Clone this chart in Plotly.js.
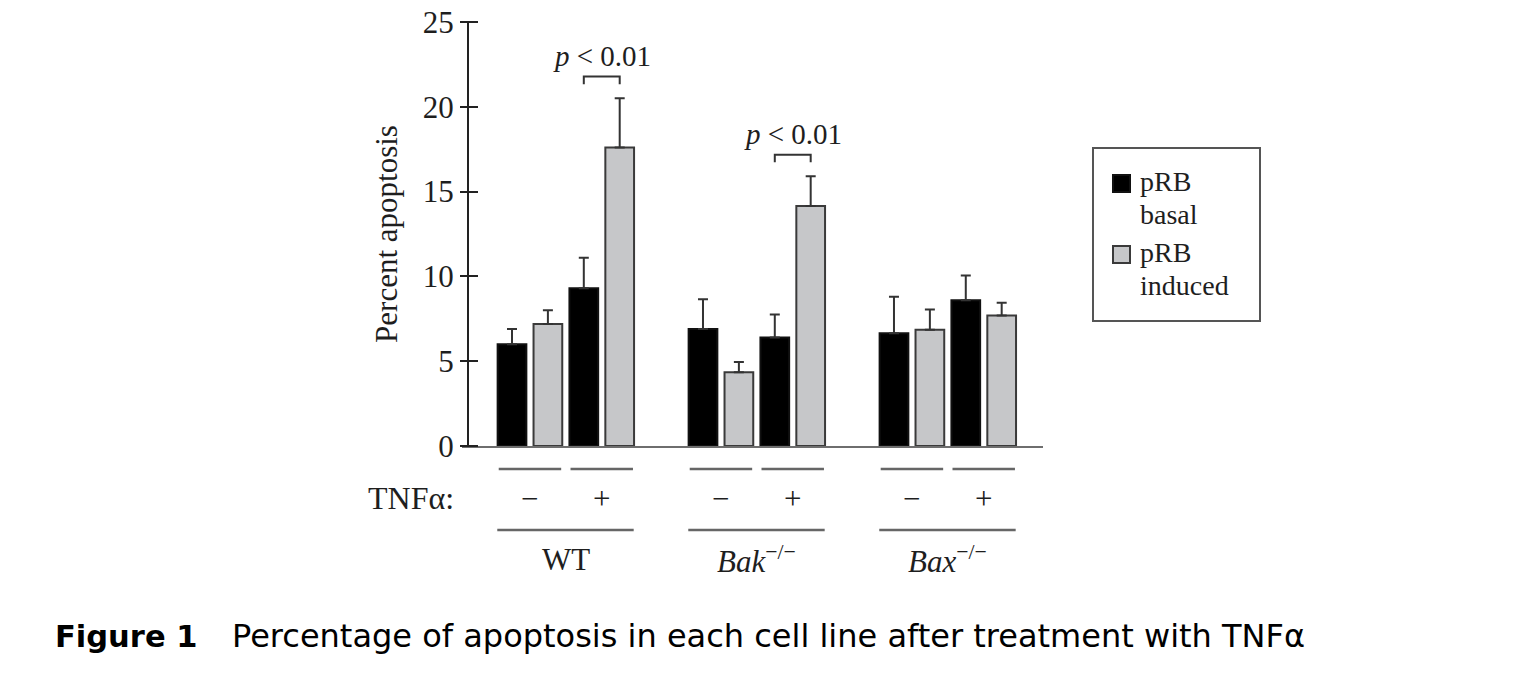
<!DOCTYPE html>
<html>
<head>
<meta charset="utf-8">
<script src="https://cdn.plot.ly/plotly-3.0.1.min.js"></script>
<style>html,body{margin:0;padding:0;background:#fff;}</style>
</head>
<body>
<div id="chart" style="width:1514px;height:692px;"></div>
<script>
// ---- data ----
const groups = ['WT', 'Bak', 'Bax'];
const groupLabels = ['WT', '<i>Bak</i><sup>−/−</sup>', '<i>Bax</i><sup>−/−</sup>'];
const tnfLabels = ['−', '+'];
// order: WT−, WT+, Bak−, Bak+, Bax−, Bax+
const basalVals   = [6.0, 9.3, 6.9, 6.4, 6.65, 8.6];
const basalErr    = [0.9, 1.8, 1.75, 1.35, 2.15, 1.45];
const inducedVals = [7.2, 17.6, 4.35, 14.15, 6.85, 7.7];
const inducedErr  = [0.8, 2.9, 0.6, 1.75, 1.2, 0.75];
const seriesNames = ['pRB<br>basal', 'pRB<br>induced'];
const yTicks = [0, 5, 10, 15, 20, 25];
// significance: index of condition (basal vs induced within that condition)
const sigConds = [1, 3];
const sigLabel = '<i>p</i> &lt; 0.01';

// ---- layout geometry ----
const L = 462, R = 1043, T = 22, B = 446;
const W = R - L, H = B - T;
const unitPx = 35.9, x0px = 512;     // px of first bar center, px per bar slot
const groupStep = 5.32;
const px2x = px => (px - L) / W;
const py2y = py => (B - py) / H;

const condPos = [];
for (let g = 0; g < groups.length; g++) for (let t = 0; t < 2; t++) condPos.push(g * groupStep + t * 2);
const basalX = condPos.map(p => p);
const inducedX = condPos.map(p => p + 1);

const font = 'Liberation Serif, Times New Roman, serif';
const fs = 31;
const txt = '#1e1e1e';

const traces = [
  {
    type: 'bar', x: basalX, y: basalVals, name: 'pRB basal', width: 0.8,
    marker: {color: '#000', line: {color: '#111', width: 2}},
    error_y: {type: 'data', array: basalErr, arrayminus: basalErr.map(() => 0), symmetric: false,
              color: '#333', thickness: 2, width: 5},
    showlegend: false, hoverinfo: 'y'
  },
  {
    type: 'bar', x: inducedX, y: inducedVals, name: 'pRB induced', width: 0.8,
    marker: {color: '#c6c7c9', line: {color: '#3a3a3a', width: 2}},
    error_y: {type: 'data', array: inducedErr, arrayminus: inducedErr.map(() => 0), symmetric: false,
              color: '#333', thickness: 2, width: 5},
    showlegend: false, hoverinfo: 'y'
  }
];

const shapes = [];
const annotations = [];

// y-axis line (ticks cross it, drawn by the axis itself)
shapes.push({type: 'line', xref: 'paper', yref: 'paper', x0: px2x(468), x1: px2x(468), y0: 0, y1: 1,
  line: {color: '#222', width: 2}});

// significance brackets
sigConds.forEach(ci => {
  const xa = basalX[ci], xb = inducedX[ci];
  const top = Math.max(basalVals[ci] + basalErr[ci], inducedVals[ci] + inducedErr[ci]) + 1.28;
  shapes.push({type: 'path', xref: 'x', yref: 'y',
    path: `M${xa},${top - 0.45} L${xa},${top} L${xb},${top} L${xb},${top - 0.45}`,
    line: {color: '#333', width: 2}});
  annotations.push({xref: 'x', yref: 'y', x: (xa + xb) / 2, y: top, yanchor: 'bottom', xanchor: 'center',
    yshift: 3, showarrow: false, text: sigLabel, font: {family: font, size: 29, color: txt}});
});

// treatment lines and labels
condPos.forEach((p, i) => {
  const c = p + 0.5;
  shapes.push({type: 'line', xref: 'x', yref: 'paper', x0: c - 0.87, x1: c + 0.87,
    y0: py2y(469), y1: py2y(469), line: {color: '#666', width: 2.5}});
  annotations.push({xref: 'x', yref: 'paper', x: c, y: py2y(498), xanchor: 'center', yanchor: 'middle',
    showarrow: false, text: tnfLabels[i % 2], font: {family: font, size: fs, color: txt}});
});
annotations.push({xref: 'paper', yref: 'paper', x: px2x(456), y: py2y(498), xanchor: 'right', yanchor: 'middle',
  showarrow: false, text: 'TNFα:', font: {family: font, size: fs + 1, color: txt}});

groups.forEach((g, gi) => {
  const s = gi * groupStep;
  shapes.push({type: 'line', xref: 'x', yref: 'paper', x0: s - 0.41, x1: s + 3.39,
    y0: py2y(530), y1: py2y(530), line: {color: '#666', width: 2.5}});
  annotations.push({xref: 'x', yref: 'paper', x: s + 1.5, y: py2y(559), xanchor: 'center', yanchor: 'middle',
    showarrow: false, text: groupLabels[gi], font: {family: font, size: fs, color: txt}});
});

// legend (manual)
shapes.push({type: 'rect', xref: 'paper', yref: 'paper', x0: px2x(1093), x1: px2x(1260), y0: py2y(321), y1: py2y(148),
  line: {color: '#555', width: 2}, fillcolor: 'rgba(0,0,0,0)'});
const legColors = [['#000', '#111'], ['#c6c7c9', '#3a3a3a']];
const legTops = [175, 246];
seriesNames.forEach((nm, i) => {
  const t0 = legTops[i];
  shapes.push({type: 'rect', xref: 'paper', yref: 'paper', x0: px2x(1113), x1: px2x(1130),
    y0: py2y(t0 + 17), y1: py2y(t0), fillcolor: legColors[i][0], line: {color: legColors[i][1], width: 2}});
  nm.split('<br>').forEach((line, li) => {
    annotations.push({xref: 'paper', yref: 'paper', x: px2x(1138), y: py2y(t0 + 6 + li * 33),
      xanchor: 'left', yanchor: 'middle', showarrow: false, text: line,
      font: {family: font, size: 28, color: txt}});
  });
});

// caption
annotations.push({xref: 'paper', yref: 'paper', x: px2x(53), y: py2y(636), xanchor: 'left', yanchor: 'middle',
  showarrow: false, text: '<b>Figure 1</b>', font: {family: 'DejaVu Sans, Verdana, sans-serif', size: 30.5, color: '#000'}});
annotations.push({xref: 'paper', yref: 'paper', x: px2x(230), y: py2y(636), xanchor: 'left', yanchor: 'middle',
  showarrow: false, text: 'Percentage of apoptosis in each cell line after treatment with TNFα',
  font: {family: 'DejaVu Sans, Verdana, sans-serif', size: 32, color: '#000'}});

const layout = {
  width: 1514, height: 692, autosize: false,
  margin: {l: L, r: 1514 - R, t: T, b: 692 - B, pad: 0},
  paper_bgcolor: '#fff', plot_bgcolor: '#fff',
  showlegend: false,
  bargap: 0,
  xaxis: {range: [(L - x0px) / unitPx, (R - x0px) / unitPx], showline: true, linecolor: '#6e6e6e', linewidth: 2,
    ticks: '', showticklabels: false, showgrid: false, zeroline: false, fixedrange: true},
  yaxis: {range: [0, 25], anchor: 'free', position: px2x(478), tickvals: yTicks, ticktext: yTicks.map(String),
    ticks: 'outside', ticklen: 18, tickwidth: 2, tickcolor: '#222', showline: false,
    showgrid: false, zeroline: false, fixedrange: true, tickfont: {family: font, size: fs, color: txt},
    title: {text: 'Percent apoptosis', font: {family: font, size: fs, color: txt}, standoff: 14}},
  shapes: shapes,
  annotations: annotations
};

Plotly.newPlot('chart', traces, layout, {displayModeBar: false, staticPlot: true});
</script>
</body>
</html>
